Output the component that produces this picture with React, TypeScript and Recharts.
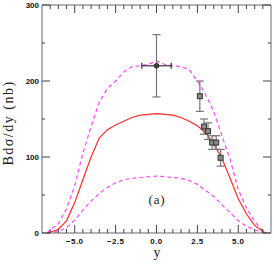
import React from "react";
import {
  ComposedChart,
  Line,
  Scatter,
  ErrorBar,
  XAxis,
  YAxis,
} from "recharts";

// rapidity grid shared by the three model curves
const RAP = [
  -6.7, -6.5, -6, -5.5, -5, -4.5, -4, -3.5, -3, -2.5, -2, -1.5, -1, -0.5, 0,
  0.5, 1, 1.5, 2, 2.5, 3, 3.5, 4, 4.5, 5, 5.5, 6, 6.5, 6.7,
];
const CENTRAL = [
  0, 1, 5, 16, 40, 70, 100, 125, 136, 142, 147, 152, 155, 156, 157, 156, 155,
  152, 147, 141, 132, 117, 98, 72, 45, 25, 10, 2, 0,
];
const UPPER = [
  0, 4, 12, 32, 62, 105, 140, 172, 190, 200, 212, 219, 220, 222, 226, 222, 220,
  219, 215, 200, 182, 160, 128, 97, 57, 33, 15, 3, 0,
];
const LOWER = [
  0, 0.5, 2, 7, 17, 30, 42, 52, 60, 66, 70, 72, 73, 74, 75, 74, 73, 72, 69, 64,
  56, 48, 37, 27, 16, 9, 4, 1, 0,
];

// measurements
const MID_X = [0];
const MID_Y = [220];
const MID_XERR = [0.9];
const MID_YERR = [41];

const FWD_X = [2.65, 2.9, 3.15, 3.4, 3.65, 3.92];
const FWD_Y = [180, 140, 134, 119, 119, 99];
const FWD_YERR = [20, 10, 11, 9, 9, 11];

const X_TICKS = [
  -6.5, -6, -5.5, -5, -4.5, -4, -3.5, -3, -2.5, -2, -1.5, -1, -0.5, 0, 0.5, 1,
  1.5, 2, 2.5, 3, 3.5, 4, 4.5, 5, 5.5, 6, 6.5,
];
const Y_TICKS = [0, 50, 100, 150, 200, 250, 300];

const curveData = RAP.map((x, i) => ({
  x,
  central: CENTRAL[i],
  upper: UPPER[i],
  lower: LOWER[i],
}));
const midData = MID_X.map((x, i) => ({ x, y: MID_Y[i], ey: MID_YERR[i] }));
// ends of the horizontal error bar of the central point
const midXBar = MID_X.flatMap((x, i) => [
  { x: x - MID_XERR[i], y: MID_Y[i] },
  { x: x + MID_XERR[i], y: MID_Y[i] },
]);
const fwdData = FWD_X.map((x, i) => ({ x, y: FWD_Y[i], ey: FWD_YERR[i] }));

const W = 274;
const H = 264;
const MARGIN = { top: 4, right: 2, bottom: 0, left: 0 };
const RIGHT_W = 1;
const PLOT_RIGHT = W - MARGIN.right - RIGHT_W;

const FRAME = "#666";
const TICK = "#444";
const TICK_FONT = "'Liberation Sans', Arial, sans-serif";
const SERIF = "'Liberation Serif', 'Times New Roman', serif";

const isMajorX = (v: number) => Math.abs(v / 2.5 - Math.round(v / 2.5)) < 1e-6;
const isMajorY = (v: number) => v % 100 === 0;
const fmtX = (v: number) => (v < 0 ? "\u2212" : "") + Math.abs(v).toFixed(1);

// ticks point into the plot on all four sides
const bottomTick = (p: any) => {
  const major = isMajorX(p.payload.value);
  return (
    <g>
      <line x1={p.x} x2={p.x} y1={p.y} y2={p.y - (major ? 8 : 4)} stroke={TICK} />
      {major && (
        <text
          x={p.x}
          y={p.y + 11}
          textAnchor="middle"
          fontSize={8}
          fontWeight="bold"
          fontFamily={TICK_FONT}
          letterSpacing={0.4}
          fill="#111"
        >
          {fmtX(p.payload.value)}
        </text>
      )}
    </g>
  );
};

const topTick = (p: any) => {
  const major = isMajorX(p.payload.value);
  return <line x1={p.x} x2={p.x} y1={p.y} y2={p.y + (major ? 8 : 4)} stroke={TICK} />;
};

// left axis tick also draws its mirror on the right frame
const leftTick = (p: any) => {
  const major = isMajorY(p.payload.value);
  const len = major ? 8 : 3;
  return (
    <g>
      <line x1={p.x} x2={p.x + len} y1={p.y} y2={p.y} stroke={TICK} />
      <line x1={PLOT_RIGHT} x2={PLOT_RIGHT - len} y1={p.y} y2={p.y} stroke={TICK} />
      {major && (
        <text
          x={p.x - 3}
          y={p.y + 3}
          textAnchor="end"
          fontSize={8}
          fontWeight="bold"
          fontFamily={TICK_FONT}
          fill="#111"
        >
          {p.payload.value}
        </text>
      )}
    </g>
  );
};

const SquareDot = (props: any) => {
  const { cx, cy } = props;
  return (
    <rect
      x={cx - 2.5}
      y={cy - 2.5}
      width={5}
      height={5}
      fill="#8a8a8a"
      stroke="#333"
      strokeWidth={1}
    />
  );
};

const CircleDot = (props: any) => {
  const { cx, cy } = props;
  return <circle cx={cx} cy={cy} r={2.3} fill="#444" stroke="#222" />;
};

const BarEnd = (props: any) => {
  const { cx, cy } = props;
  return (
    <line x1={cx} x2={cx} y1={cy - 3} y2={cy + 3} stroke="#333" strokeWidth={1.2} />
  );
};

const axisCommon = {
  type: "number" as const,
  interval: 0 as const,
  tickSize: 0,
  tickMargin: 0,
  tickLine: false,
  axisLine: { stroke: FRAME },
};

export default function App() {
  return (
    <div style={{ position: "absolute", left: 0, top: 0 }}>
      <ComposedChart width={W} height={H} data={curveData} margin={MARGIN}>
        <XAxis
          {...axisCommon}
          dataKey="x"
          domain={[-7, 7]}
          ticks={X_TICKS}
          tick={bottomTick}
          height={31}
          allowDataOverflow
        />
        <XAxis
          {...axisCommon}
          xAxisId="t"
          orientation="top"
          dataKey="x"
          domain={[-7, 7]}
          ticks={X_TICKS}
          tick={topTick}
          height={1}
        />
        <YAxis
          {...axisCommon}
          domain={[0, 300]}
          ticks={Y_TICKS}
          tick={leftTick}
          width={42}
        />
        <YAxis
          {...axisCommon}
          yAxisId="r"
          orientation="right"
          domain={[0, 300]}
          ticks={Y_TICKS}
          tick={false}
          width={RIGHT_W}
        />
        <Line
          dataKey="upper"
          type="linear"
          stroke="#ff44ff"
          strokeWidth={1.2}
          strokeDasharray="4 3"
          dot={false}
          isAnimationActive={false}
        />
        <Line
          dataKey="lower"
          type="linear"
          stroke="#ff44ff"
          strokeWidth={1.2}
          strokeDasharray="4 3"
          dot={false}
          isAnimationActive={false}
        />
        <Line
          dataKey="central"
          type="linear"
          stroke="#ff2a2a"
          strokeWidth={1.2}
          dot={false}
          isAnimationActive={false}
        />
        <Scatter
          data={midXBar}
          dataKey="y"
          line={{ stroke: "#333", strokeWidth: 1.2 }}
          shape={<BarEnd />}
          isAnimationActive={false}
        />
        <Scatter
          data={midData}
          dataKey="y"
          shape={<CircleDot />}
          isAnimationActive={false}
        >
          <ErrorBar dataKey="ey" direction="y" width={4} stroke="#777" strokeWidth={1.2} />
        </Scatter>
        <Scatter
          data={fwdData}
          dataKey="y"
          shape={<SquareDot />}
          isAnimationActive={false}
        >
          <ErrorBar dataKey="ey" direction="y" width={4} stroke="#777" strokeWidth={1.2} />
        </Scatter>
        <text
          x={157}
          y={204}
          textAnchor="middle"
          fontSize={13}
          fontFamily={SERIF}
          letterSpacing={0.8}
          fill="#222"
        >
          (a)
        </text>
        <text
          x={157}
          y={257}
          textAnchor="middle"
          fontSize={14}
          fontFamily={SERIF}
          fill="#222"
        >
          y
        </text>
        <text
          x={13}
          y={123}
          transform="rotate(-90 13 123)"
          textAnchor="middle"
          fontSize={14}
          fontFamily={SERIF}
          letterSpacing={1.5}
          fill="#222"
        >
          Bdσ/dy (nb)
        </text>
      </ComposedChart>
    </div>
  );
}
